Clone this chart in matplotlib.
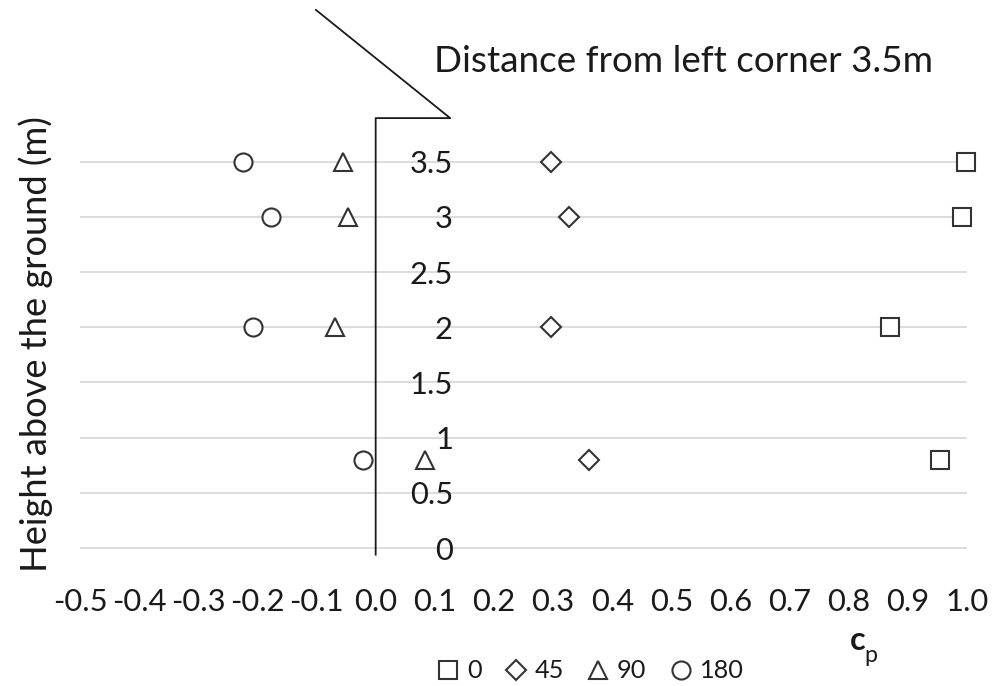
import matplotlib
matplotlib.use('Agg')
import matplotlib.pyplot as plt

plt.rcParams['font.family'] = ['Lato', 'DejaVu Sans']

# ---- data ----
heights = [3.5, 3.0, 2.0, 0.8]
cp_0 = [0.998, 0.992, 0.870, 0.955]
cp_45 = [0.297, 0.327, 0.297, 0.360]
cp_90 = [-0.056, -0.047, -0.069, 0.083]
cp_180 = [-0.225, -0.177, -0.207, -0.021]
series_labels = ['0', '45', '90', '180']
x_ticks = [-0.5, -0.4, -0.3, -0.2, -0.1, 0.0, 0.1, 0.2, 0.3, 0.4, 0.5, 0.6, 0.7, 0.8, 0.9, 1.0]
x_tick_labels = ['-0.5', '-0.4', '-0.3', '-0.2', '-0.1', '0.0', '0.1', '0.2', '0.3', '0.4',
                 '0.5', '0.6', '0.7', '0.8', '0.9', '1.0']
y_ticks = [0, 0.5, 1, 1.5, 2, 2.5, 3, 3.5]
y_tick_labels = ['0', '0.5', '1', '1.5', '2', '2.5', '3', '3.5']
title_text = 'Distance from left corner 3.5m'
ylabel_text = 'Height above the ground (m)'

# building outline (decoration)
wall_x = [0.0, 0.0, 0.126, -0.101]
wall_y = [-0.06, 3.895, 3.895, 4.875]

W, H = 1007, 686
fig = plt.figure(figsize=(W / 100, H / 100), dpi=100)
renderer = fig.canvas.get_renderer()


def fit_size(s, target_px, **kw):
    t = fig.text(0, 0, s, fontsize=20, **kw)
    w = t.get_window_extent(renderer).width
    t.remove()
    return 20 * target_px / w


tick_fs = fit_size('0.5', 43)
title_fs = fit_size(title_text, 500)
ylab_fs = fit_size(ylabel_text, 458)
leg_fs = fit_size('180', 44)

# axes: x -0.5..1.0 -> px 80..967 ; y 0 -> px 548, 3.5 -> px 161.7
y_per = (548 - 161.7) / 3.5
ax_top_px, ax_bot_px = 0, 560
ax = fig.add_axes([80 / W, (H - ax_bot_px) / H, 887 / W, (ax_bot_px - ax_top_px) / H])
ax.set_xlim(-0.5, 1.0)
ax.set_ylim(-(ax_bot_px - 548) / y_per, (548 - ax_top_px) / y_per)
for s in ax.spines.values():
    s.set_visible(False)
ax.spines['left'].set_position(('data', 0.1307))

ax.set_yticks(y_ticks)
ax.set_yticklabels(y_tick_labels)
ax.set_xticks(x_ticks)
ax.set_xticklabels(x_tick_labels)
ax.tick_params(axis='both', length=0, labelsize=tick_fs, colors='#1a1a1a')
ax.tick_params(axis='y', pad=0)
ax.tick_params(axis='x', pad=20)
ax.grid(axis='y', color='#d9d9d9', linewidth=1.3)
ax.set_axisbelow(True)

ax.plot(wall_x, wall_y, color='#1a1a1a', linewidth=1.3, clip_on=False, zorder=2)

edge = '#333333'
common = dict(linestyle='none', markerfacecolor='white', markeredgecolor=edge,
              markeredgewidth=1.5, clip_on=False, zorder=3)
ax.plot(cp_0, heights, marker='s', markersize=12.5, label=series_labels[0], **common)
ax.plot(cp_45, heights, marker='D', markersize=10, label=series_labels[1], **common)
ax.plot(cp_90, heights, marker='^', markersize=13, label=series_labels[2], **common)
ax.plot(cp_180, heights, marker='o', markersize=13, label=series_labels[3], **common)

fig.text(684 / W, 1 - 62 / H, title_text, fontsize=title_fs, ha='center', va='center',
         color='#1a1a1a')
fig.text(36 / W, 1 - 344 / H, ylabel_text, fontsize=ylab_fs, rotation=90,
         ha='center', va='center', color='#1a1a1a')

handles, labels = ax.get_legend_handles_labels()
fig.legend(handles, labels, loc='center', bbox_to_anchor=(590 / W, 1 - 671 / H),
           ncol=4, frameon=False, fontsize=leg_fs, handlelength=0.9,
           handletextpad=0.3, columnspacing=0.9, borderpad=0, labelcolor='#1a1a1a')

fig.text(850 / W, 1 - 650 / H, 'c', fontsize=tick_fs * 1.05, fontweight='bold',
         ha='left', va='baseline', color='#1a1a1a')
fig.text(864 / W, 1 - 662 / H, 'p', fontsize=tick_fs * 0.75,
         ha='left', va='baseline', color='#1a1a1a')

fig.savefig('out.png', dpi=100)
